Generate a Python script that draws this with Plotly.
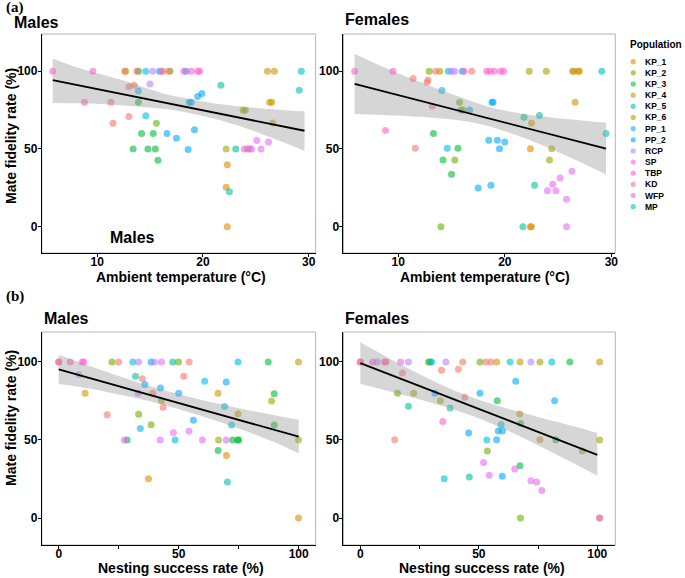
import plotly.graph_objects as go

# populations in legend order, with ggplot-like hue colours
populations = ['KP_1', 'KP_2', 'KP_3', 'KP_4', 'KP_5', 'KP_6', 'PP_1', 'PP_2',
               'RCP', 'SP', 'TBP', 'KD', 'WFP', 'MP']
pop_colors = ['#E58700', '#6BB100', '#00BA38', '#C99800', '#00C19F', '#A3A500', '#00B9E3', '#00A9FF',
              '#B983FF', '#E76BF3', '#FD61D1', '#F8766D', '#FF62BC', '#00BFC4']

# (a) Males: ambient temperature vs mate fidelity
m_temp = [5.8, 9.6, 8.8, 11.3, 11.5, 12.6, 12.7, 13.0, 13.5, 13.0, 13.75, 13.9, 13.9, 13.9, 13.4, 14.2,
          14.6, 14.6, 14.8, 15.0, 15.25, 15.3, 15.5, 15.6, 15.75, 15.9, 16.06, 16.2, 16.6, 16.75, 16.9, 17.5,
          18.2, 18.4, 18.6, 18.7, 18.9, 18.9, 19.2, 19.5, 19.7, 19.5, 19.9, 21.7, 22.2, 22.3, 22.2, 22.5,
          22.3, 23.1, 23.8, 24.0, 23.9, 24.2, 24.4, 24.6, 25.1, 25.5, 26.1, 26.2, 26.3, 26.5, 26.75, 26.6,
          29.1, 29.3]
m_temp_fid = [100, 100, 80, 80, 66.5, 100, 100, 90, 91, 70.8, 100, 100, 87.3, 80, 50, 60,
              100, 71.4, 50, 91.8, 100, 60, 50, 66.5, 42.8, 100, 100, 100, 60, 100, 100, 56.8,
              100, 100, 49.7, 80, 80, 100, 62.4, 100, 100, 83.7, 85.6, 91, 50, 39.8, 25.4, 22.4,
              0, 50, 74.8, 74.8, 50, 50, 50, 50, 55.5, 50, 100, 54.4, 80, 80, 100, 66.7,
              87.7, 100]
m_temp_pop = ['TBP', 'TBP', 'WFP', 'KD', 'KD', 'KD', 'KP_6', 'KD', 'KD', 'KD', 'KD', 'KP_3', 'PP_1', 'KP_3', 'KP_3', 'KP_3',
              'PP_1', 'PP_1', 'KP_3', 'RCP', 'RCP', 'KP_3', 'KP_3', 'KP_2', 'KP_3', 'PP_2', 'RCP', 'KD', 'PP_2', 'KD', 'KP_2', 'PP_2',
              'TBP', 'PP_2', 'PP_2', 'PP_2', 'PP_2', 'TBP', 'PP_2', 'TBP', 'TBP', 'PP_2', 'PP_2', 'KP_5', 'KP_6', 'KP_1', 'KP_1', 'KP_5',
              'KP_1', 'KP_5', 'KP_6', 'KP_6', 'SP', 'KP_4', 'SP', 'SP', 'SP', 'SP', 'KP_4', 'SP', 'KP_4', 'KP_4', 'KP_4', 'KP_4',
              'MP', 'MP']

# (a) Females
f_temp = [5.9, 9.5, 8.8, 11.4, 11.6, 12.7, 12.8, 12.9, 13.2, 13.3, 13.5, 13.9, 14.0, 14.1, 14.2, 14.6,
          14.7, 15.0, 15.3, 15.0, 15.3, 15.6, 15.75, 15.9, 16.1, 16.0, 16.2, 16.7, 16.9, 17.5, 18.3, 18.6,
          19.0, 18.5, 18.7, 18.8, 18.9, 19.3, 19.5, 19.6, 19.9, 20.0, 21.7, 21.8, 22.3, 22.5, 22.4, 22.5,
          22.4, 22.8, 23.25, 23.9, 24.0, 24.2, 24.4, 24.5, 24.8, 25.2, 25.8, 25.8, 26.3, 26.35, 26.5, 26.6,
          26.9, 27.0, 29.1, 29.5]
f_temp_fid = [100, 100, 61.8, 95.3, 50.4, 92.9, 94.4, 100, 77.5, 60, 100, 100, 0, 87.6, 42.9, 50.4,
              100, 100, 100, 33.7, 42.9, 50.4, 80, 75.1, 75.1, 100, 100, 75.1, 100, 24.9, 100, 100,
              100, 55.6, 26.6, 80, 80, 55.6, 50.2, 100, 100, 54.5, 0, 70.4, 100, 66.5, 0, 0,
              50.2, 26.6, 71.5, 100, 23.2, 42.9, 50.2, 27.3, 23.2, 31.3, 0, 17.6, 35.6, 100, 100, 80,
              100, 100, 100, 60]
f_temp_pop = ['TBP', 'TBP', 'TBP', 'KD', 'KD', 'KD', 'KD', 'KP_2', 'KD', 'KP_3', 'KD', 'KP_6', 'KP_2', 'PP_1', 'KP_3', 'PP_1',
              'PP_1', 'RCP', 'RCP', 'KP_3', 'KP_2', 'KP_3', 'KP_2', 'KP_3', 'KP_6', 'PP_2', 'WFP', 'PP_2', 'KD', 'PP_2', 'TBP', 'TBP',
              'TBP', 'PP_2', 'PP_2', 'PP_1', 'PP_2', 'PP_2', 'PP_2', 'TBP', 'TBP', 'PP_2', 'KP_5', 'KP_5', 'KP_6', 'KP_4', 'KP_1', 'KP_1',
              'KP_1', 'KP_5', 'KP_5', 'KP_6', 'SP', 'KP_6', 'KP_6', 'SP', 'SP', 'SP', 'SP', 'SP', 'SP', 'KP_4', 'KP_4', 'KP_4',
              'KP_4', 'KP_4', 'MP', 'MP']

# (b) Males: nesting success vs mate fidelity
m_nest = [0, 0, 4.8, 9.8, 10.4, 8.4, 11, 20.2, 22.2, 25, 27.3, 28.5, 30.9, 32, 33.3, 33.1,
          33.3, 34, 34.8, 35.9, 37.4, 38.5, 38.5, 39.2, 39.9, 42.8, 42.4, 42.8, 43.5, 42.3, 47.5, 47.8,
          48.5, 49.9, 50, 52.1, 54.4, 54.3, 56.1, 59.9, 60.8, 66.4, 66.6, 66.4, 69.1, 69.8, 69.8, 69.9,
          70.3, 72, 72.5, 74.6, 75, 74.7, 74.7, 87.3, 88.7, 89.8, 89.8, 99.9, 99.9, 99.9]
m_nest_fid = [100, 100, 100, 100, 100, 91.9, 80, 66.2, 100, 100, 50, 50, 100, 90.8, 100, 80,
              66.5, 57.3, 89.3, 85.5, 25.2, 100, 59.8, 80, 100, 100, 83.3, 75.2, 70.9, 50, 100, 54.7,
              50, 100, 80, 90.8, 100, 55.6, 62.6, 50, 87.6, 80, 50, 43.2, 71.4, 87.2, 50, 40,
              23.1, 59.6, 50, 50, 50, 100, 66.7, 100, 75, 79.7, 59.6, 100, 50, 0]
m_nest_pop = ['WFP', 'KD', 'WFP', 'TBP', 'TBP', 'RCP', 'KP_4', 'KD', 'KP_2', 'KD', 'SP', 'KP_3', 'PP_1', 'KP_5', 'RCP', 'RCP',
              'KP_2', 'PP_1', 'KD', 'PP_2', 'KP_1', 'PP_2', 'KP_2', 'KD', 'RCP', 'SP', 'PP_2', 'KP_6', 'KD', 'SP', 'KP_5', 'SP',
              'PP_1', 'KP_2', 'PP_2', 'KD', 'KD', 'SP', 'PP_2', 'SP', 'PP_1', 'KP_4', 'KP_6', 'KP_3', 'PP_1', 'PP_2', 'SP', 'KP_1',
              'KP_5', 'PP_1', 'KP_3', 'KP_3', 'KP_3', 'PP_1', 'KP_4', 'KP_3', 'KP_6', 'KP_3', 'KP_3', 'KP_4', 'KP_6', 'KP_1']

# (b) Females
f_nest = [0, 0, 5.2, 7.1, 10.2, 10.8, 14.5, 15.7, 17, 17.8, 20.3, 20.3, 22.5, 28.7, 29.5, 30.1,
          31.5, 33.8, 34.3, 34.8, 35.4, 36.1, 37.9, 41.4, 43.2, 44.1, 45.7, 46, 50.5, 50.5, 52, 53,
          53.6, 53.4, 54.4, 55.1, 57.6, 57.5, 57.8, 58.2, 59.4, 60, 59.9, 63.2, 65.2, 65.6, 67.3, 67.4,
          67.4, 67.6, 67.6, 72, 72, 74.4, 75.8, 75.8, 76.6, 80.8, 82, 82.5, 88.4, 93.7, 101, 101, 101, 101]
f_nest_fid = [100, 100, 100, 100, 100, 100, 50.2, 80, 100, 92.9, 100, 71.6, 80, 100, 100, 100,
              80, 75.2, 94.7, 61.8, 25.2, 100, 70.5, 95.3, 100, 77.4, 54.5, 26.3, 100, 80, 35.5, 100,
              42.9, 50, 27.4, 100, 100, 50.2, 75.2, 55.8, 59.8, 55.8, 26.7, 100, 31.4, 87.6, 66.7, 100,
              33.5, 60.5, 0, 100, 23.9, 23.1, 50.2, 100, 17.7, 100, 75.2, 50.2, 100, 42.9, 100, 50, 0, 0]
f_nest_pop = ['WFP', 'KD', 'WFP', 'RCP', 'WFP', 'KD', 'KD', 'KP_2', 'SP', 'KD', 'RCP', 'KP_5', 'KP_6', 'KP_2', 'KP_3', 'PP_1',
              'PP_2', 'KP_6', 'KD', 'TBP', 'PP_1', 'RCP', 'KP_5', 'KD', 'KD', 'KD', 'PP_2', 'KP_5', 'KP_2', 'PP_2', 'SP', 'KD',
              'KP_2', 'PP_1', 'SP', 'KD', 'KP_4', 'PP_2', 'KP_3', 'PP_2', 'MP', 'PP_2', 'PP_2', 'MP', 'SP', 'PP_2', 'KP_4', 'KP_4',
              'KP_3', 'KP_3', 'KP_2', 'RCP', 'SP', 'SP', 'KP_4', 'KP_6', 'SP', 'PP_1', 'PP_2', 'KP_3', 'KP_3', 'KP_6', 'KP_4', 'KP_6', 'KD', 'RCP']

# fitted lines (lm) and 95% CI ribbons
m_temp_band_x = [5.8, 8.5, 12.5, 16.6, 18.8, 21.9, 25.0, 29.6]
m_temp_band_hi = [108.2, 101.5, 94.0, 85.0, 82.0, 78.5, 76.4, 74.2]
m_temp_band_lo = [79.6, 79.4, 78.0, 75.5, 73.0, 68.0, 61.0, 48.8]
m_temp_fit = [94.2, 61.7]

f_temp_band_x = [5.9, 8.5, 12.5, 16.6, 18.8, 21.9, 25.0, 29.5]
f_temp_band_hi = [111.2, 103.0, 91.8, 81.5, 76.5, 72.3, 69.8, 67.0]
f_temp_band_lo = [72.4, 71.9, 70.5, 67.5, 64.0, 56.8, 48.0, 33.6]
f_temp_fit = [91.8, 50.2]

m_nest_band_x = [0, 15, 30, 45, 60, 75, 90, 100]
m_nest_band_hi = [104.7, 96.3, 88.4, 81.4, 75.5, 70.4, 65.8, 62.9]
m_nest_band_lo = [85.9, 82.4, 77.5, 72.0, 65.0, 57.3, 48.5, 41.3]
m_nest_fit = [95.3, 52.1]

f_nest_band_x = [0, 15, 30, 45, 60, 75, 90, 100]
f_nest_band_hi = [112.6, 100.0, 88.5, 78.5, 71.0, 64.8, 58.8, 54.5]
f_nest_band_lo = [85.8, 80.1, 73.9, 66.7, 57.5, 46.7, 35.1, 27.1]
f_nest_fit = [99.2, 40.5]

W, H = 685, 578
FONT = 'Liberation Sans, Arial, Helvetica, sans-serif'


def px(x):
    return x / W


def py(y):
    return 1 - y / H


panels = [
    ('', m_temp, m_temp_fid, m_temp_pop, m_temp_band_x, m_temp_band_hi, m_temp_band_lo, m_temp_fit),
    ('2', f_temp, f_temp_fid, f_temp_pop, f_temp_band_x, f_temp_band_hi, f_temp_band_lo, f_temp_fit),
    ('3', m_nest, m_nest_fid, m_nest_pop, m_nest_band_x, m_nest_band_hi, m_nest_band_lo, m_nest_fit),
    ('4', f_nest, f_nest_fid, f_nest_pop, f_nest_band_x, f_nest_band_hi, f_nest_band_lo, f_nest_fit),
]

fig = go.Figure()

for ax, xs, ys, pops, bx, bhi, blo, fit in panels:
    assert len(xs) == len(ys) == len(pops)
    for pop, col in zip(populations, pop_colors):
        px_ = [x for x, p in zip(xs, pops) if p == pop]
        py_ = [y for y, p in zip(ys, pops) if p == pop]
        fig.add_trace(go.Scatter(x=px_, y=py_, mode='markers', name=pop, showlegend=False,
                                 marker=dict(color=col, size=7, opacity=0.6, line=dict(width=0)),
                                 xaxis='x' + ax, yaxis='y' + ax))
    # confidence ribbon: lower edge, then upper edge filled down to it
    fig.add_trace(go.Scatter(x=bx, y=blo, mode='lines', line=dict(width=0, shape='spline'),
                             showlegend=False, hoverinfo='skip', xaxis='x' + ax, yaxis='y' + ax))
    fig.add_trace(go.Scatter(x=bx, y=bhi, mode='lines', fill='tonexty',
                             fillcolor='rgba(153,153,153,0.4)', line=dict(width=0, shape='spline'),
                             showlegend=False, hoverinfo='skip', xaxis='x' + ax, yaxis='y' + ax))
    # regression line
    fig.add_trace(go.Scatter(x=[bx[0], bx[-1]], y=fit, mode='lines', line=dict(color='black', width=1.8),
                             showlegend=False, xaxis='x' + ax, yaxis='y' + ax))

# axis layout
axis_common = dict(showgrid=False, zeroline=False, showline=True, linecolor='black', linewidth=1,
                   ticks='outside', ticklen=3, tickcolor='black',
                   tickfont=dict(family=FONT, size=12, color='black', weight='bold'))
xa = dict(ticklabelstandoff=-5, **axis_common)
ya = dict(ticklabelstandoff=-2, **axis_common)
left_dom = [px(42), px(317)]
right_dom = [px(345), px(618)]
top_dom = [py(253), py(34)]
bot_dom = [py(545), py(332)]
minor_x = dict(tickvals=[25, 75], ticks='outside', ticklen=3, tickcolor='black')

fig.update_layout(
    xaxis=dict(domain=left_dom, range=[4.77, 30.65], tickvals=[10, 20, 30], anchor='y', **xa),
    yaxis=dict(domain=top_dom, range=[-16.9, 123.9], tickvals=[0, 50, 100], anchor='x', **ya),
    xaxis2=dict(domain=right_dom, range=[4.86, 30.37], tickvals=[10, 20, 30], anchor='y2', **xa),
    yaxis2=dict(domain=top_dom, range=[-16.9, 123.9], tickvals=[0, 50, 100], anchor='x2', **ya),
    xaxis3=dict(domain=left_dom, range=[-7.05, 107.05], tickvals=[0, 50, 100], anchor='y3', minor=minor_x, **xa),
    yaxis3=dict(domain=bot_dom, range=[-17.3, 119.2], tickvals=[0, 50, 100], anchor='x3', **ya),
    xaxis4=dict(domain=right_dom, range=[-7.1, 107.6], tickvals=[0, 50, 100], anchor='y4', minor=minor_x, **xa),
    yaxis4=dict(domain=bot_dom, range=[-17.3, 119.2], tickvals=[0, 50, 100], anchor='x4', **ya),
)

# grey panel borders
for ax in ['', '2', '3', '4']:
    fig.add_shape(type='rect', xref='x%s domain' % ax, yref='y%s domain' % ax, x0=0, x1=1, y0=0, y1=1,
                  line=dict(color='#b5b5b5', width=1), layer='below')

bold = dict(family=FONT, color='black', weight='bold')
serif = dict(family='Liberation Serif, Times New Roman, serif', size=15, color='black', weight='bold')
texts = [
    ('(a)', 4, 8, 'left', serif, 0),
    ('(b)', 4, 296, 'left', serif, 0),
    ('Males', 12, 22, 'left', dict(size=16, **bold), 0),
    ('Females', 345, 20, 'left', dict(size=16, **bold), 0),
    ('Males', 42, 318, 'left', dict(size=16, **bold), 0),
    ('Females', 345, 318, 'left', dict(size=16, **bold), 0),
    ('Ambient temperature (°C)', 182, 277, 'center', dict(size=14, **bold), 0),
    ('Ambient temperature (°C)', 487, 277, 'center', dict(size=14, **bold), 0),
    ('Nesting success rate (%)', 182, 568, 'center', dict(size=14, **bold), 0),
    ('Nesting success rate (%)', 484, 568, 'center', dict(size=14, **bold), 0),
    ('Mate fidelity rate (%)', 11, 136, 'center', dict(size=14, **bold), -90),
    ('Mate fidelity rate (%)', 11, 418, 'center', dict(size=14, **bold), -90),
    ('Population', 631, 44, 'left', dict(size=10, **bold), 0),
]
for t, x, y, anc, f, ang in texts:
    fig.add_annotation(text=t, x=px(x), y=py(y), xref='paper', yref='paper', xanchor=anc, yanchor='middle',
                       showarrow=False, font=f, textangle=ang)

# in-panel label
fig.add_annotation(text='Males', x=13.3, y=-7, xref='x', yref='y', showarrow=False, font=dict(size=16, **bold))

# custom compact legend
for i, (pop, col) in enumerate(zip(populations, pop_colors)):
    yy = 61.7 + 11.15 * i
    fig.add_shape(type='circle', xref='paper', yref='paper', xsizemode='pixel', ysizemode='pixel',
                  xanchor=px(636), yanchor=py(yy), x0=-2.6, x1=2.6, y0=-2.6, y1=2.6,
                  fillcolor=col, opacity=0.6, line=dict(width=0))
    fig.add_annotation(text=pop, x=px(646), y=py(yy), xref='paper', yref='paper', xanchor='left',
                       yanchor='middle', showarrow=False, font=dict(size=8.5, **bold))

fig.update_layout(width=W, height=H, margin=dict(l=0, r=0, t=0, b=0), plot_bgcolor='white',
                  paper_bgcolor='white', font=dict(family=FONT, color='black'), showlegend=False)

fig.write_html('out.html', config={'displayModeBar': False}, post_script="document.body.style.margin='0';")
